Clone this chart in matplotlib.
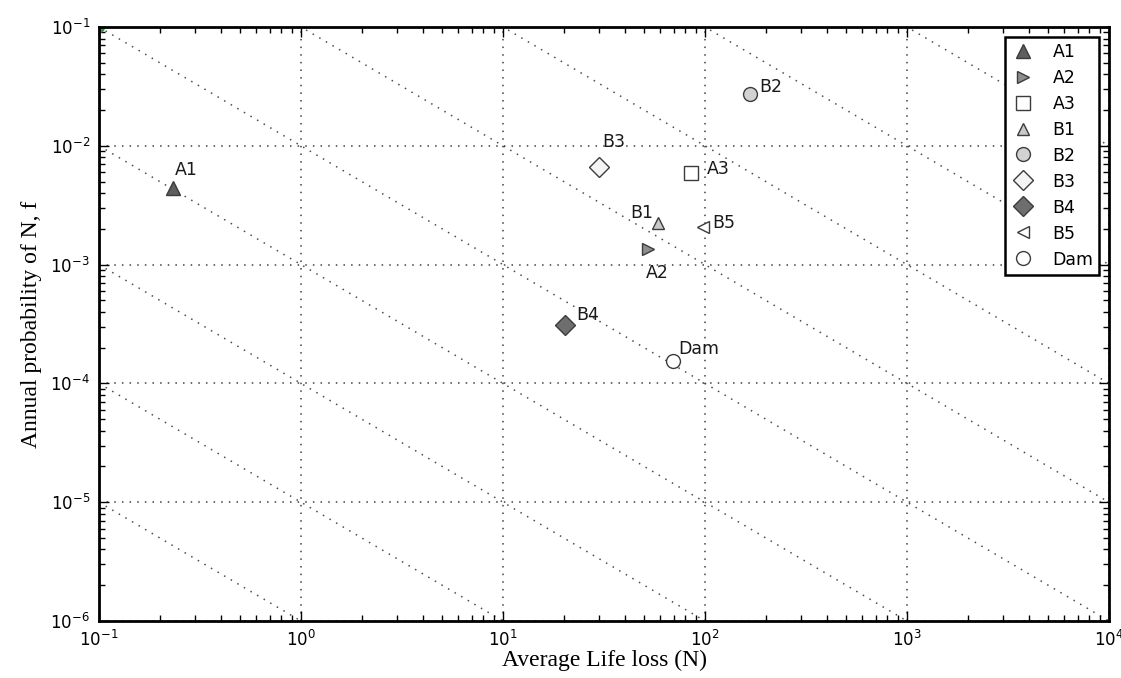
import numpy as np
import matplotlib
matplotlib.use('Agg')
import matplotlib.pyplot as plt

# 数据 / data
names = ['A1', 'A2', 'A3', 'B1', 'B2', 'B3', 'B4', 'B5', 'Dam']
life_loss = [0.232, 52.2, 85.3, 58.5, 167.0, 29.9, 20.3, 97.7, 69.5]
annual_prob = [4.4e-3, 1.35e-3, 5.9e-3, 2.24e-3, 2.73e-2, 6.6e-3, 3.1e-4, 2.07e-3, 1.55e-4]

# f*N = const reference lines
risk_levels = [1e-7, 1e-6, 1e-5, 1e-4, 1e-3, 1e-2, 1e-1, 1e0, 1e1, 1e2, 1e3]
corner_x = [0.1]
corner_y = [0.1]

# 样式 / styles
markers = ['^', '>', 's', '^', 'o', 'D', 'D', '<', 'o']
faces = ['#5e5e5e', '#8e8e8e', 'white', '#c8c8c8', '#d2d2d2', '#f4f4f4', '#6e6e6e', 'white', 'white']
sizes = [10, 9, 9.5, 9, 10, 10, 10, 8, 10]
# text offsets in points + alignment
offsets = {
    'A1': ((1.5, 13), 'left'),
    'A2': ((6.5, -17), 'center'),
    'A3': ((11.5, 3), 'left'),
    'B1': ((-3.5, 7), 'right'),
    'B2': ((6.5, 5), 'left'),
    'B3': ((2, 18), 'left'),
    'B4': ((8, 7), 'left'),
    'B5': ((7, 3), 'left'),
    'Dam': ((3.5, 8.5), 'left'),
}
dots = (0, (1, 4))

plt.rcParams['font.family'] = ['DejaVu Sans']
plt.rcParams['mathtext.default'] = 'regular'

fig = plt.figure(figsize=(11.21, 6.78), dpi=100)
ax = fig.add_axes([99/1121, 1 - 621/678, (1109-99)/1121, (621-27)/678])
ax.set_xscale('log')
ax.set_yscale('log')

xx = np.array([0.1, 1e4])
for c in risk_levels:
    ax.plot(xx, c/xx, linestyle=dots, color='0.3', lw=1.1, zorder=1)

ax.plot(corner_x, corner_y, 'o', color='#2ca02c', ms=7, zorder=2)

for i, nm in enumerate(names):
    ax.plot(life_loss[i], annual_prob[i], linestyle='none', marker=markers[i],
            ms=sizes[i], mfc=faces[i], mec='#3c3c3c', mew=1.0, label=nm, zorder=3)
    (dx, dy), ha = offsets[nm]
    ax.annotate(nm, (life_loss[i], annual_prob[i]), xytext=(dx, dy),
                textcoords='offset points', ha=ha, va='center', fontsize=12.5, color='#1a1a1a')

ax.set_xlim(0.1, 1e4)
ax.set_ylim(1e-6, 1e-1)
ax.grid(True, which='major', linestyle=dots, color='0.25', lw=1.1)
ax.tick_params(which='both', direction='in', top=True, right=True, labelsize=12, pad=6.5)
ax.tick_params(which='major', length=7, width=1)
ax.tick_params(which='minor', length=4, width=1)
for s in ax.spines.values():
    s.set_linewidth(2.0)

ax.set_xlabel('Average Life loss (N)', family='Liberation Serif', fontsize=17, labelpad=0)
ax.set_ylabel('Annual probability of N, f', family='Liberation Serif', fontsize=17, labelpad=6)

leg = ax.legend(loc='upper right', numpoints=1, fontsize=12.5, fancybox=False,
                edgecolor='black', framealpha=1, labelspacing=0.46, handlelength=1.4,
                handletextpad=1.0, borderpad=0.35, borderaxespad=0.55)
leg.get_frame().set_linewidth(1.8)

fig.savefig('out.png', dpi=100)
